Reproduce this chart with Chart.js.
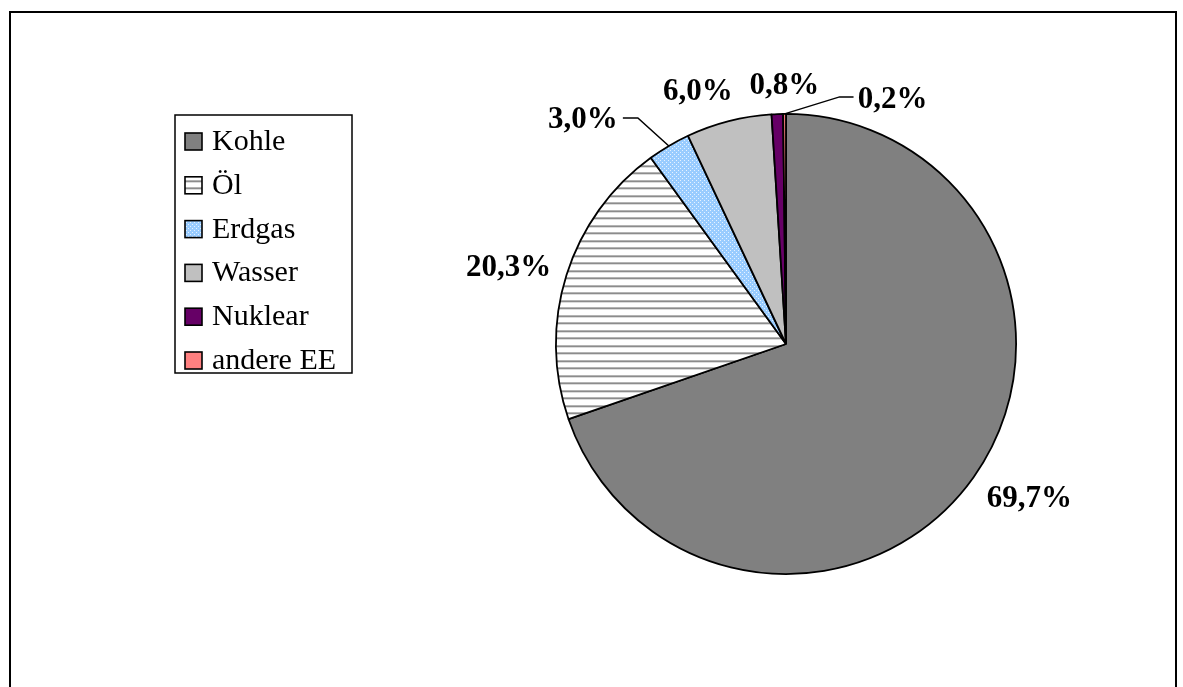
<!DOCTYPE html>
<html>
<head>
<meta charset="utf-8">
<script src="https://cdn.jsdelivr.net/npm/chart.js@4/dist/chart.umd.min.js"></script>
<style>
  html, body { margin: 0; padding: 0; background: #ffffff; }
  #wrap { width: 1183px; height: 687px; position: relative; }
</style>
</head>
<body>
<div id="wrap"><canvas id="c" width="1183" height="687"></canvas></div>
<script>
// Energieträger und ihre Anteile (%)
const categories = ['Kohle', 'Öl', 'Erdgas', 'Wasser', 'Nuklear', 'andere EE'];
const shares = [69.7, 20.3, 3.0, 6.0, 0.8, 0.2];
const valueLabels = ['69,7%', '20,3%', '3,0%', '6,0%', '0,8%', '0,2%'];

// Fill patterns
function stripePattern() {
  const c = document.createElement('canvas');
  c.width = 8; c.height = 15;
  const g = c.getContext('2d');
  g.fillStyle = '#ffffff'; g.fillRect(0, 0, 8, 15);
  const rows = [[0, '#b4b4b4'], [1, '#8c8c8c'], [2, '#dcdcdc'], [7, '#b4b4b4'], [8, '#8c8c8c'], [9, '#dcdcdc']];
  rows.forEach(([y, col]) => { g.fillStyle = col; g.fillRect(0, y, 8, 1); });
  return g.createPattern(c, 'repeat');
}
function dotPattern() {
  const c = document.createElement('canvas');
  c.width = 4; c.height = 4;
  const g = c.getContext('2d');
  g.fillStyle = '#99ccff'; g.fillRect(0, 0, 4, 4);
  g.fillStyle = '#e6f2ff';
  g.fillRect(0, 0, 1, 1); g.fillRect(2, 2, 1, 1);
  return g.createPattern(c, 'repeat');
}

const fills = ['#808080', stripePattern(), dotPattern(), '#c0c0c0', '#660066', '#ff8080'];

// Label placement: offset of the text baseline centre from the slice's outer mid-point,
// plus an optional elbow for leader lines (offset from the same point).
const labelPlacement = [
  { dx: 56, dy: 30 },
  { dx: -58, dy: 1 },
  { dx: -86, dy: -18, elbow: [-31, -28], tail: [-46, -28] },
  { dx: -31, dy: -21 },
  { dx: 7, dy: -20 },
  { dx: 108, dy: -6, elbow: [55, -17], tail: [69, -17] }
];

const framePlugin = {
  id: 'frame',
  beforeDraw(chart) {
    const ctx = chart.ctx;
    ctx.save();
    ctx.fillStyle = '#ffffff';
    ctx.fillRect(0, 0, chart.width, chart.height);
    ctx.strokeStyle = '#000000';
    ctx.lineWidth = 2;
    ctx.strokeRect(10, 12, 1166, 700);
    ctx.restore();
  }
};

const sliceLabelPlugin = {
  id: 'sliceLabels',
  afterDatasetsDraw(chart) {
    const ctx = chart.ctx;
    const meta = chart.getDatasetMeta(0);
    ctx.save();
    ctx.font = 'bold 31px "Liberation Serif", "Times New Roman", serif';
    ctx.fillStyle = '#000000';
    ctx.textAlign = 'center';
    ctx.textBaseline = 'alphabetic';
    meta.data.forEach((arc, i) => {
      const p = arc.getProps(['x', 'y', 'startAngle', 'endAngle', 'outerRadius'], true);
      const mid = (p.startAngle + p.endAngle) / 2;
      const ex = p.x + Math.cos(mid) * p.outerRadius;
      const ey = p.y + Math.sin(mid) * p.outerRadius;
      const pl = labelPlacement[i];
      if (pl.elbow) {
        ctx.beginPath();
        ctx.strokeStyle = '#000000';
        ctx.lineWidth = 1.5;
        ctx.moveTo(ex, ey);
        ctx.lineTo(ex + pl.elbow[0], ey + pl.elbow[1]);
        ctx.lineTo(ex + pl.tail[0], ey + pl.tail[1]);
        ctx.stroke();
      }
      ctx.fillText(valueLabels[i], ex + pl.dx, ey + pl.dy);
    });
    ctx.restore();
  }
};

const boxLegendPlugin = {
  id: 'boxLegend',
  afterDraw(chart) {
    const ctx = chart.ctx;
    ctx.save();
    ctx.strokeStyle = '#000000';
    ctx.lineWidth = 1.5;
    ctx.strokeRect(175, 115, 177, 258);
    ctx.font = '30px "Liberation Serif", "Times New Roman", serif';
    ctx.textAlign = 'left';
    ctx.textBaseline = 'alphabetic';
    categories.forEach((name, i) => {
      const base = 150 + i * 43.8;
      ctx.fillStyle = fills[i];
      ctx.fillRect(185, base - 17, 17, 17);
      ctx.lineWidth = 1.6;
      ctx.strokeRect(185, base - 17, 17, 17);
      ctx.fillStyle = '#000000';
      ctx.fillText(name, 212, base);
    });
    ctx.restore();
  }
};

new Chart(document.getElementById('c'), {
  type: 'pie',
  data: {
    labels: categories,
    datasets: [{
      data: shares,
      backgroundColor: fills,
      borderColor: '#000000',
      borderWidth: 1.8
    }]
  },
  options: {
    responsive: false,
    animation: false,
    layout: { padding: { left: 555, right: 166, top: 113, bottom: 112 } },
    plugins: {
      legend: { display: false },
      tooltip: { enabled: false }
    }
  },
  plugins: [framePlugin, sliceLabelPlugin, boxLegendPlugin]
});
</script>
</body>
</html>
